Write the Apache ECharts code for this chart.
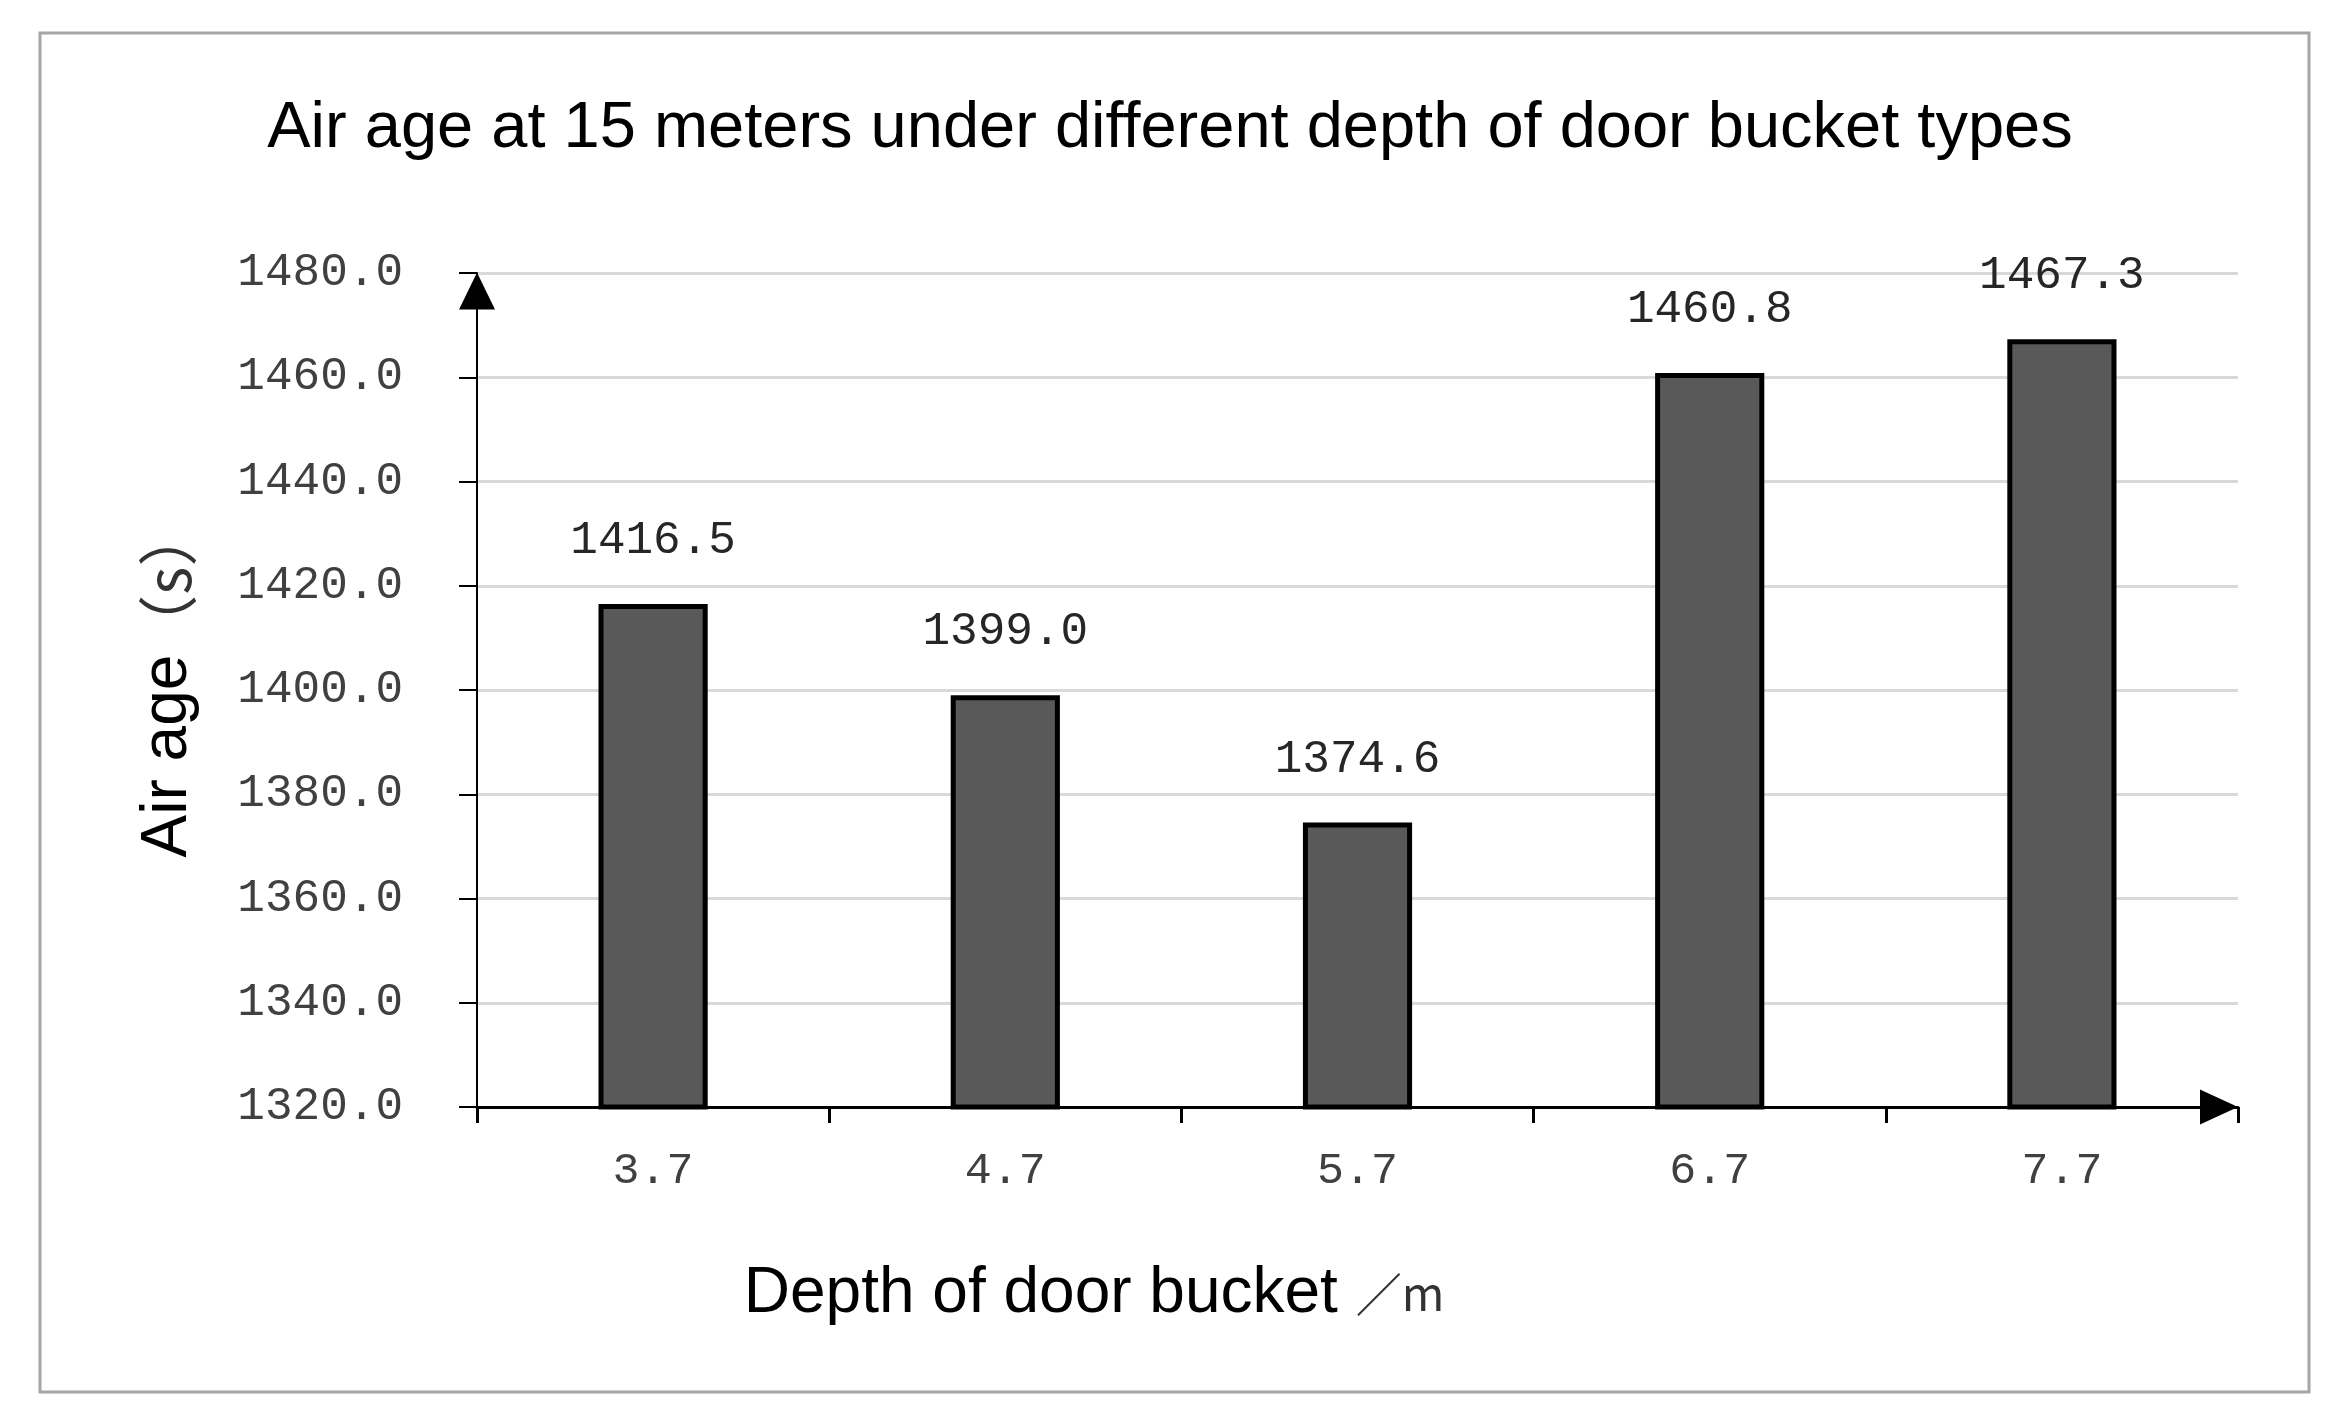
<!DOCTYPE html>
<html>
<head>
<meta charset="utf-8">
<title>Air age chart</title>
<script src="https://cdn.jsdelivr.net/npm/echarts@6/dist/echarts.min.js"></script>
<style>
html, body { margin: 0; padding: 0; background: #fff; }
#the-echart { width: 2340px; height: 1415px; }
</style>
</head>
<body>
<div id="the-echart"></div>
<script>
// chart data
const depths = ['3.7', '4.7', '5.7', '6.7', '7.7']
const airAge = [1416.5, 1399.0, 1374.6, 1460.8, 1467.3]
const yMin = 1320
const yMax = 1480
const yStep = 20

const monoFont = '"Liberation Mono", "DejaVu Sans Mono", monospace'
const sansFont = '"Liberation Sans", Arial, sans-serif'
const cjkFont = '"Noto Sans CJK SC", sans-serif'

let chart = echarts.init(document.getElementById('the-echart'))
chart.setOption({
  animation: false,
  backgroundColor: '#fff',
  title: {
    text: 'Air age at 15 meters under different depth of door bucket types',
    left: 'center',
    top: 97,
    padding: 0,
    textStyle: {fontFamily: sansFont, fontSize: 65, fontWeight: 'normal', color: '#000'}
  },
  graphic: [{
    type: 'rect',
    shape: {x: 40, y: 33, width: 2269, height: 1359},
    style: {fill: 'none', stroke: '#a6a6a6', lineWidth: 3},
    z: -1
  }],
  grid: {left: 477, right: 102, top: 273, bottom: 308},
  xAxis: {
    type: 'category',
    data: depths,
    name: 'Depth of door bucket {u|／m}',
    nameLocation: 'middle',
    nameGap: 155,
    nameTextStyle: {
      fontFamily: sansFont, fontSize: 64, color: '#000',
      padding: [0, 527, 0, 0],
      rich: {u: {fontFamily: cjkFont, fontSize: 46, color: '#333'}}
    },
    axisLine: {
      lineStyle: {color: '#000', width: 3},
      symbol: ['none', 'triangle'],
      symbolSize: [35, 38],
      symbolOffset: [0, -19]
    },
    axisTick: {show: true, length: 16, lineStyle: {color: '#000', width: 3}},
    axisLabel: {margin: 42, fontFamily: monoFont, fontSize: 45, color: '#404040'}
  },
  yAxis: {
    type: 'value',
    min: yMin,
    max: yMax,
    interval: yStep,
    name: 'Air age{u|（s）}',
    nameLocation: 'middle',
    nameGap: 277,
    nameTextStyle: {
      fontFamily: sansFont, fontSize: 64, color: '#000',
      padding: [0, 0, 0, 16],
      rich: {u: {fontFamily: cjkFont, fontSize: 60, color: '#333'}}
    },
    axisLine: {
      show: true,
      lineStyle: {color: '#000', width: 2},
      symbol: ['none', 'triangle'],
      symbolSize: [36, 37],
      symbolOffset: [0, -18]
    },
    axisTick: {show: true, length: 18, lineStyle: {color: '#000', width: 2}},
    axisLabel: {
      margin: 74, fontFamily: monoFont, fontSize: 46, color: '#404040',
      formatter: function(v) { return v.toFixed(1) }
    },
    splitLine: {lineStyle: {color: '#d9d9d9', width: 3}}
  },
  series: [{
    type: 'bar',
    data: airAge,
    barWidth: '31%',
    itemStyle: {color: '#595959', borderColor: '#000', borderWidth: 5},
    label: {
      show: true,
      position: 'top',
      distance: 40,
      fontFamily: monoFont,
      fontSize: 46,
      color: '#262626',
      formatter: function(p) { return p.value.toFixed(1) }
    }
  }]
})
</script>
</body>
</html>
